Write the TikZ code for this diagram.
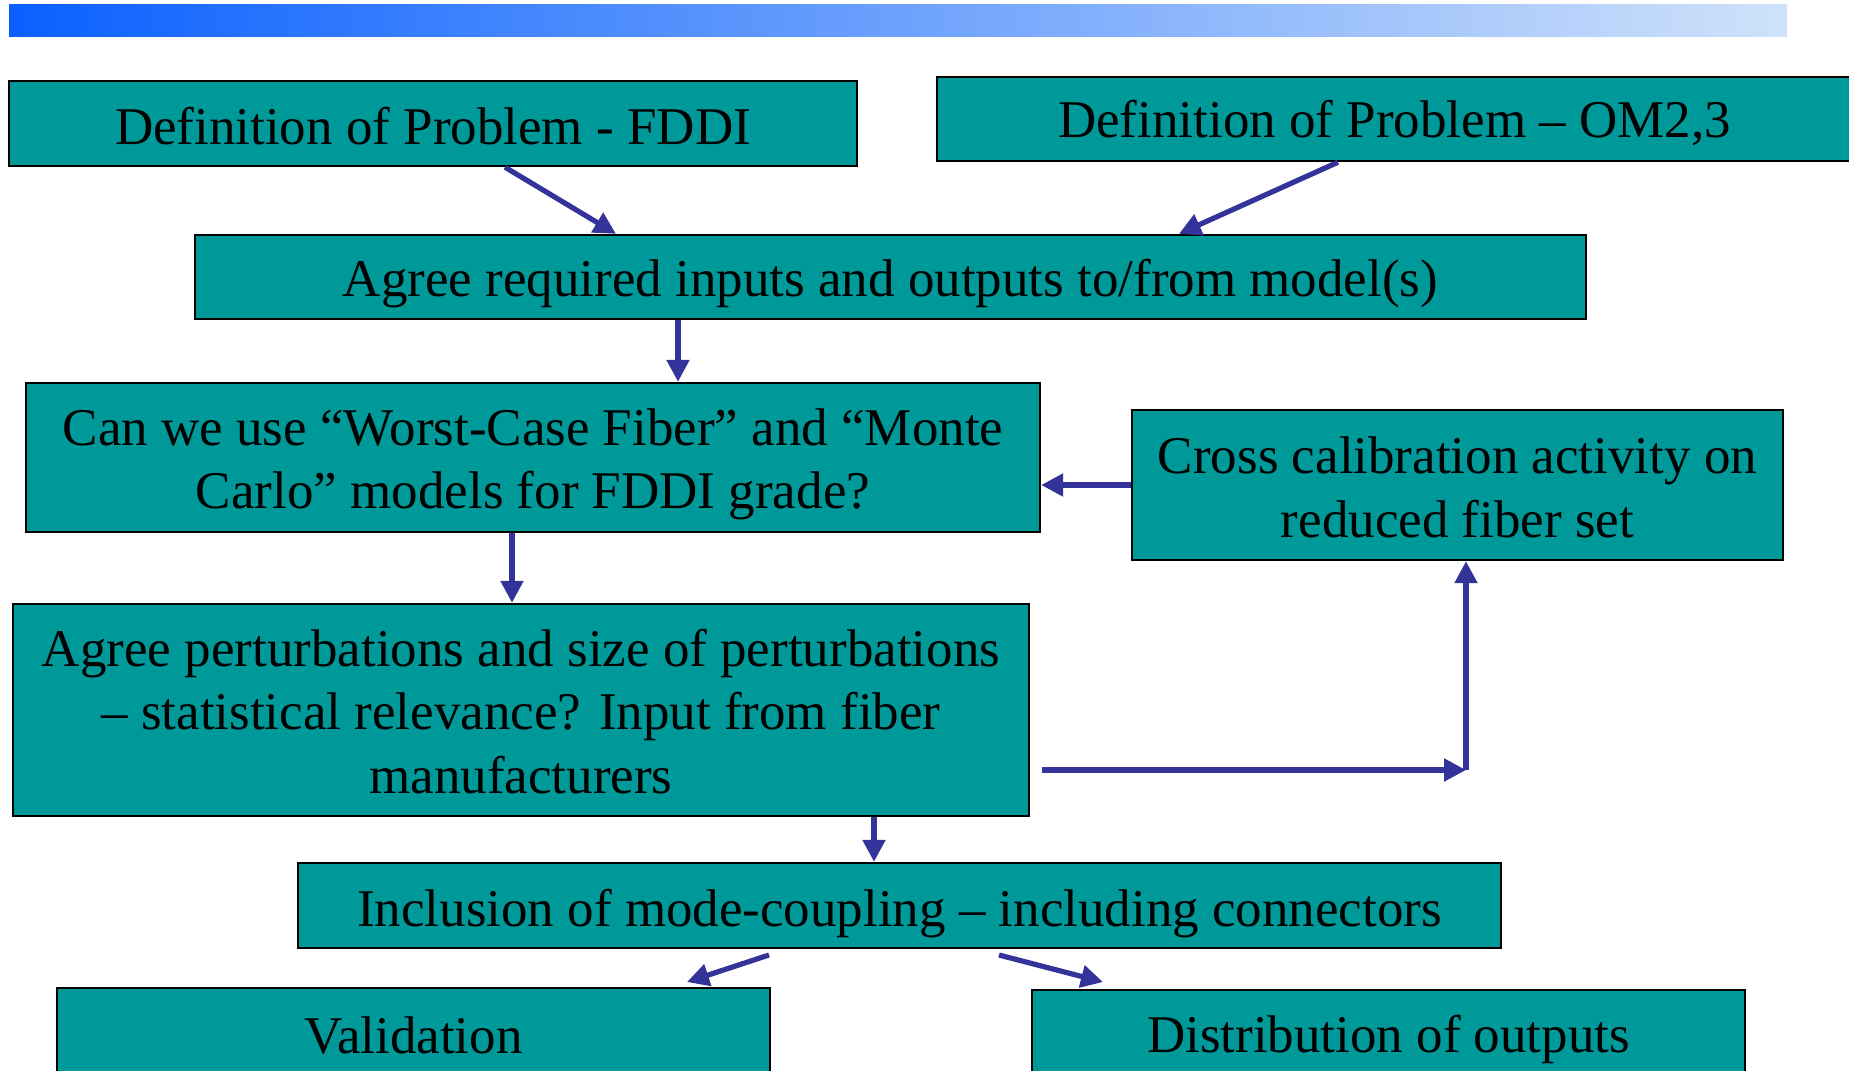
\documentclass[tikz,border=0pt]{standalone}
\usepackage{fontspec}
\setmainfont{Liberation Serif}
\usetikzlibrary{arrows.meta,calc}
\definecolor{teal1}{RGB}{0,153,153}
\definecolor{arrblue}{RGB}{51,51,153}
\definecolor{gradL}{RGB}{10,96,255}
\definecolor{gradR}{RGB}{207,226,250}
\newcommand{\lowtxt}[2]{\raisebox{-#1}[\height][\depth]{#2}}
\tikzset{
  box/.style={draw=black,line width=1.2pt,fill=teal1,inner sep=0pt,align=center,
    font=\fontsize{26.5pt}{31.8pt}\selectfont},
  arr/.style={draw=arrblue,line width=2.6pt,-{Triangle[length=11pt,width=11pt]}},
}
\begin{document}
\begin{tikzpicture}[x=0.5pt,y=-0.5pt]
\useasboundingbox (0,0) rectangle (1849,1071);
\clip (0,0) rectangle (1849,1071);
\fill[white] (0,0) rectangle (1849,1071);
\shade[left color=gradL,right color=gradR] (9,4) rectangle (1787,36);

\node[box,minimum width=424pt,minimum height=42.5pt] (b1) at (433,123.5) {\lowtxt{1.2pt}{Definition of Problem - FDDI}};
\node[box,minimum width=457.5pt,minimum height=42pt] (b2) at (1394.5,119) {\lowtxt{1.8pt}{Definition of Problem -- OM2,3}};
\node[box,minimum width=695.5pt,minimum height=42pt] (b3) at (890.5,277) {\lowtxt{3.5pt}{Agree required inputs and outputs to/from model(s)}};
\node[box,minimum width=507pt,minimum height=74.5pt] (b4) at (533,457.5) {\lowtxt{3.5pt}{Can we use “Worst-Case Fiber” and “Monte}\\\lowtxt{3.5pt}{Carlo” models for FDDI grade?}};
\node[box,minimum width=325.5pt,minimum height=75pt] (b5) at (1457.5,485) {\lowtxt{1.2pt}{Cross calibration activity on}\\\lowtxt{1.2pt}{reduced fiber set}};
\node[box,minimum width=508pt,minimum height=106pt] (b6) at (521,710) {\lowtxt{0.6pt}{Agree perturbations and size of perturbations}\\\lowtxt{0.6pt}{-- statistical relevance? Input from fiber}\\\lowtxt{0.6pt}{manufacturers}};
\node[box,minimum width=601.5pt,minimum height=42.5pt] (b7) at (899.5,905.5) {\lowtxt{4pt}{Inclusion of mode-coupling -- including connectors}};
\node[box,minimum width=356.5pt,minimum height=42.5pt] (b8) at (413.5,1030.5) {\lowtxt{2.4pt}{Validation}};
\node[box,minimum width=356.5pt,minimum height=42.5pt] (b9) at (1388.5,1032.5) {\lowtxt{3.5pt}{Distribution of outputs}};

\coordinate (fstart) at (1042,770);
\coordinate (corner) at (1466,770);
\coordinate (ia) at (769,955);
\coordinate (ib) at (687,982);
\coordinate (ja) at (999,955);
\coordinate (jb) at (1103,982);

\draw[arr] (505,0 |- b1.south) -- (616,0 |- b3.north);
\draw[arr] (1338,0 |- b2.south) -- (1179,0 |- b3.north);
\draw[arr] (678,0 |- b3.south) -- (678,0 |- b4.north);
\draw[arr] (b5.west) -- (b4.east |- b5.west);
\draw[arr] (512,0 |- b4.south) -- (512,0 |- b6.north);
\draw[arr] (fstart) -- (corner);
\draw[arr] (corner) -- (corner |- b5.south);
\draw[arr] (874,0 |- b6.south) -- (874,0 |- b7.north);
\draw[arr] (ia) -- (ib);
\draw[arr] (ja) -- (jb);
\end{tikzpicture}
\end{document}
